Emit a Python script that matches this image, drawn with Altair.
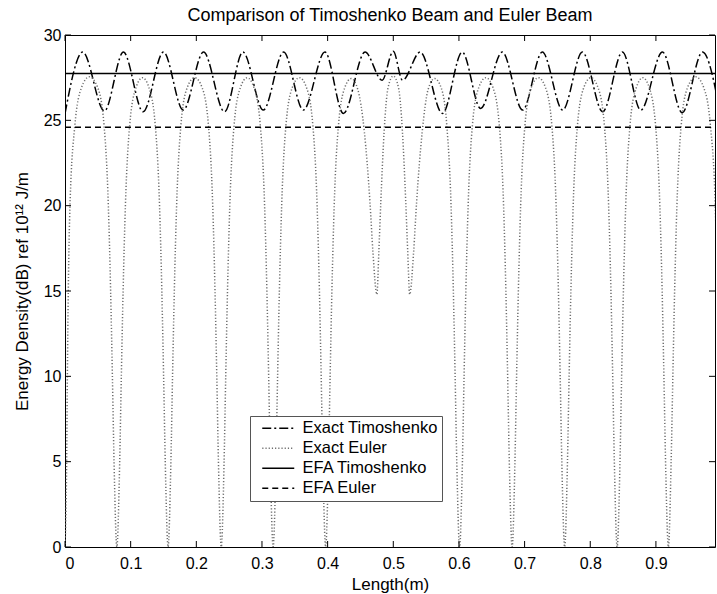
import altair as alt
import pandas as pd

# Exact Timoshenko beam solution (peaks and troughs along the beam)
timo_x = [0.000, 0.027, 0.060, 0.089, 0.119, 0.150, 0.180, 0.211, 0.243, 0.271,
          0.302, 0.333, 0.363, 0.396, 0.424, 0.457, 0.483, 0.500, 0.514, 0.541,
          0.575, 0.605, 0.633, 0.666, 0.697, 0.727, 0.758, 0.788, 0.819, 0.849,
          0.877, 0.910, 0.940, 0.971, 0.998]
timo_y = [25.40, 29.00, 25.55, 29.00, 25.50, 29.00, 25.60, 29.00, 25.50, 29.00,
          25.60, 29.00, 25.60, 29.00, 25.40, 29.00, 27.35, 29.05, 27.35, 29.00,
          25.40, 29.00, 25.70, 29.00, 25.60, 29.00, 25.60, 29.00, 25.50, 29.00,
          25.60, 29.00, 25.45, 29.00, 25.40]

# Exact Euler beam solution (arches between the nodal dips)
euler_x = [
    0.0000, 0.0025, 0.0036, 0.0050, 0.0076, 0.0150, 0.0250, 0.0370, 0.0500, 0.0595, 0.0660, 0.0695, 0.0722, 0.0747, 0.0790,
    0.0833, 0.0858, 0.0885, 0.0920, 0.0985, 0.1080, 0.1180, 0.1280, 0.1375, 0.1440, 0.1475, 0.1502, 0.1527, 0.1570,
    0.1613, 0.1638, 0.1665, 0.1700, 0.1765, 0.1860, 0.1975, 0.2090, 0.2185, 0.2250, 0.2285, 0.2312, 0.2337, 0.2380,
    0.2423, 0.2448, 0.2475, 0.2510, 0.2575, 0.2670, 0.2775, 0.2880, 0.2975, 0.3040, 0.3075, 0.3102, 0.3127, 0.3170,
    0.3213, 0.3238, 0.3265, 0.3300, 0.3365, 0.3460, 0.3570, 0.3680, 0.3775, 0.3840, 0.3875, 0.3902, 0.3927, 0.3970,
    0.4013, 0.4038, 0.4065, 0.4100, 0.4165, 0.4260, 0.4360, 0.4460, 0.4560, 0.4645, 0.4690, 0.4750,
    0.4780, 0.4810, 0.4860, 0.4920, 0.5000, 0.5080, 0.5140, 0.5190, 0.5220, 0.5250,
    0.5310, 0.5355, 0.5440, 0.5530, 0.5630, 0.5730, 0.5815, 0.5880, 0.5915, 0.5942, 0.5967, 0.6010,
    0.6053, 0.6078, 0.6105, 0.6140, 0.6205, 0.6300, 0.6410, 0.6520, 0.6615, 0.6680, 0.6715, 0.6742, 0.6767, 0.6810,
    0.6853, 0.6878, 0.6905, 0.6940, 0.7005, 0.7100, 0.7210, 0.7320, 0.7415, 0.7480, 0.7515, 0.7542, 0.7567, 0.7610,
    0.7653, 0.7678, 0.7705, 0.7740, 0.7805, 0.7900, 0.8010, 0.8120, 0.8215, 0.8280, 0.8315, 0.8342, 0.8367, 0.8410,
    0.8453, 0.8478, 0.8505, 0.8540, 0.8605, 0.8700, 0.8800, 0.8900, 0.8995, 0.9060, 0.9095, 0.9122, 0.9147, 0.9190,
    0.9232, 0.9258, 0.9285, 0.9320, 0.9385, 0.9480, 0.9610, 0.9730, 0.9830, 0.9904, 0.9930, 0.9944, 0.9955, 0.9980,
]
euler_y = [
    0.0, 5.0, 10.0, 15.0, 20.0, 24.7, 26.9, 27.55, 26.9, 24.7, 20.0, 15.0, 10.0, 5.0, 0.0,
    5.0, 10.0, 15.0, 20.0, 24.7, 26.9, 27.5, 26.9, 24.7, 20.0, 15.0, 10.0, 5.0, 0.0,
    5.0, 10.0, 15.0, 20.0, 24.7, 26.9, 27.5, 26.9, 24.7, 20.0, 15.0, 10.0, 5.0, 0.0,
    5.0, 10.0, 15.0, 20.0, 24.7, 26.9, 27.5, 26.9, 24.7, 20.0, 15.0, 10.0, 5.0, 0.0,
    5.0, 10.0, 15.0, 20.0, 24.7, 26.9, 27.5, 26.9, 24.7, 20.0, 15.0, 10.0, 5.0, 0.0,
    5.0, 10.0, 15.0, 20.0, 24.7, 26.9, 27.45, 26.8, 24.3, 20.2, 17.3, 14.8,
    17.3, 20.2, 24.3, 26.9, 27.6, 26.9, 24.3, 20.2, 17.3, 14.8,
    17.3, 20.2, 24.3, 26.8, 27.45, 26.9, 24.7, 20.0, 15.0, 10.0, 5.0, 0.0,
    5.0, 10.0, 15.0, 20.0, 24.7, 26.9, 27.5, 26.9, 24.7, 20.0, 15.0, 10.0, 5.0, 0.0,
    5.0, 10.0, 15.0, 20.0, 24.7, 26.9, 27.5, 26.9, 24.7, 20.0, 15.0, 10.0, 5.0, 0.0,
    5.0, 10.0, 15.0, 20.0, 24.7, 26.9, 27.5, 26.9, 24.7, 20.0, 15.0, 10.0, 5.0, 0.0,
    5.0, 10.0, 15.0, 20.0, 24.7, 26.9, 27.5, 26.9, 24.7, 20.0, 15.0, 10.0, 5.0, 0.0,
    5.0, 10.0, 15.0, 20.0, 24.7, 26.9, 27.55, 26.9, 24.7, 20.0, 15.0, 10.0, 5.0, 0.0,
]

# Energy flow analysis results (constant levels)
efa_x = [0.0, 1.0]
efa_timo = 27.75
efa_euler = 24.6

series_names = ["Exact Timoshenko", "Exact Euler", "EFA Timoshenko", "EFA Euler"]
series_colors = ["#000000", "#6e6e6e", "#000000", "#000000"]
series_dashes = [[9, 3, 2, 3], [1.2, 2], [1, 0], [6, 4]]

x_ticks = [0.0, 0.1, 0.2, 0.3, 0.4, 0.5, 0.6, 0.7, 0.8, 0.9]
y_ticks = [0, 5, 10, 15, 20, 25, 30]

W, H = 650, 512
FONT = "Liberation Sans"

rows = []
rows += [{"x": a, "y": b, "series": series_names[0], "i": k} for k, (a, b) in enumerate(zip(timo_x, timo_y))]
rows += [{"x": a, "y": b, "series": series_names[1], "i": k} for k, (a, b) in enumerate(zip(euler_x, euler_y))]
rows += [{"x": a, "y": efa_timo, "series": series_names[2], "i": k} for k, a in enumerate(efa_x)]
rows += [{"x": a, "y": efa_euler, "series": series_names[3], "i": k} for k, a in enumerate(efa_x)]
df = pd.DataFrame(rows)

xscale = alt.Scale(domain=[0, 0.99], nice=False, zero=False)
yscale = alt.Scale(domain=[0, 30], nice=False)

x_axis = alt.Axis(values=x_ticks, format="~g", title="Length(m)", ticks=False,
                  domain=False, grid=False, labelPadding=8, titlePadding=5)
y_axis = alt.Axis(values=y_ticks, title="Energy Density(dB) ref 10¹² J/m", ticks=False,
                  domain=False, grid=False, labelPadding=4, titlePadding=12)

# Line-sample legend inside the plot; the sample is drawn to the right of its anchor
legend = alt.Legend(
    title=None, orient="none", legendX=185, legendY=381,
    symbolType="M-1,0H7", symbolSize=64, symbolStrokeWidth=1.5, symbolOffset=4,
    labelFont=FONT, labelFontSize=16.5, labelColor="black", labelOffset=28,
    labelExpr="datum.label + '\u00a0\u00a0\u00a0\u00a0\u00a0\u00a0'",
    fillColor="white", strokeColor="#555555", padding=4, rowPadding=3,
)

lines = alt.Chart(df).mark_line(interpolate="monotone", strokeWidth=1.5, clip=True).encode(
    x=alt.X("x:Q", scale=xscale, axis=x_axis),
    y=alt.Y("y:Q", scale=yscale, axis=y_axis),
    color=alt.Color("series:N", scale=alt.Scale(domain=series_names, range=series_colors),
                    sort=series_names, legend=legend),
    strokeDash=alt.StrokeDash("series:N", scale=alt.Scale(domain=series_names, range=series_dashes),
                              sort=series_names, legend=legend),
    order="i:Q",
)

# Inward tick marks on all four sides of the frame
xt = pd.DataFrame({"x": x_ticks})
yt = pd.DataFrame({"y": y_ticks})
x_bottom = alt.Chart(xt).mark_rule(color="black").encode(
    x=alt.X("x:Q", scale=xscale, axis=x_axis), y=alt.value(H), y2=alt.value(H - 6))
x_top = alt.Chart(xt).mark_rule(color="black").encode(
    x=alt.X("x:Q", scale=xscale, axis=x_axis), y=alt.value(0), y2=alt.value(6))
y_left = alt.Chart(yt).mark_rule(color="black").encode(
    y=alt.Y("y:Q", scale=yscale, axis=y_axis), x=alt.value(0), x2=alt.value(6))
y_right = alt.Chart(yt).mark_rule(color="black").encode(
    y=alt.Y("y:Q", scale=yscale, axis=y_axis), x=alt.value(W), x2=alt.value(W - 6))

chart = (
    alt.layer(lines, x_bottom, x_top, y_left, y_right)
    .properties(
        width=W, height=H,
        title=alt.TitleParams("Comparison of Timoshenko Beam and Euler Beam", font=FONT,
                              fontSize=18, fontWeight="normal", color="black", offset=2),
        autosize=alt.AutoSizeParams(type="none"),
        padding={"left": 65, "top": 35, "right": 2, "bottom": 47},
        background="white",
    )
    .configure_view(stroke="black", strokeWidth=1)
    .configure_axis(labelFont=FONT, labelFontSize=16, labelColor="black",
                    titleFont=FONT, titleFontSize=17, titleFontWeight="normal", titleColor="black")
)

chart.save("out.html", embed_options={"renderer": "svg", "actions": False})
